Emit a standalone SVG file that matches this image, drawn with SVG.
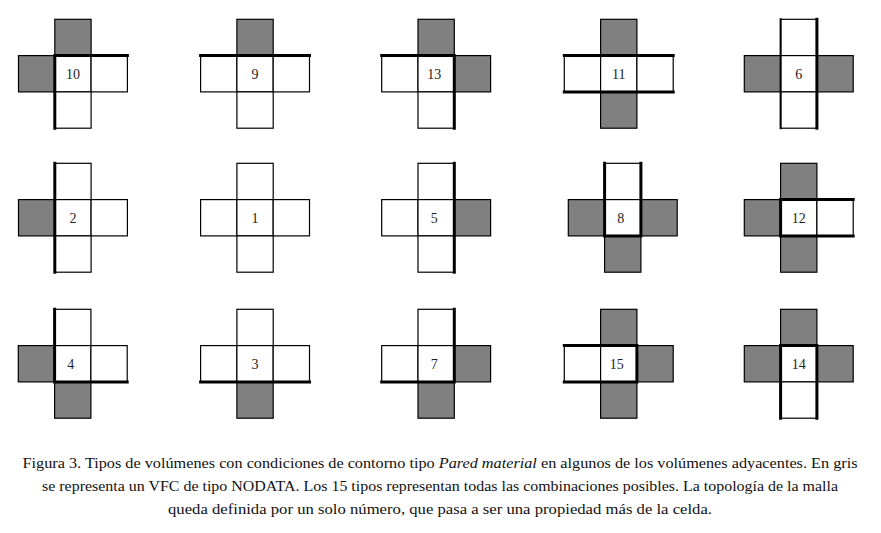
<svg xmlns="http://www.w3.org/2000/svg" xmlns:xlink="http://www.w3.org/1999/xlink" width="881" height="533" viewBox="0 0 881 533">
<style>
.w{fill:#ffffff;stroke:#000;stroke-width:1.2}
.g{fill:#808080;stroke:#000;stroke-width:1.2}
.t{fill:none;stroke:#000;stroke-width:3;stroke-linecap:square}
.n{font-family:"Liberation Serif","DejaVu Serif",serif;font-size:14px;text-anchor:middle;fill:#222}
.c{font-family:"Liberation Serif","DejaVu Serif",serif;font-size:14px;text-anchor:middle;fill:#111}
</style>
<rect width="881" height="533" fill="#fff"/>
<g id="n10" transform="translate(18.5,19.3)">
<rect class="g" x="36.3" y="0" width="36.3" height="36.3"/><rect class="g" x="0" y="36.3" width="36.3" height="36.3"/><rect class="w" x="36.3" y="36.3" width="36.3" height="36.3"/><rect class="w" x="72.6" y="36.3" width="36.3" height="36.3"/><rect class="w" x="36.3" y="72.6" width="36.3" height="36.3"/>
<path class="t" d="M36.3 36.3H108.9M36.3 36.3V108.9"/>
<text class="n" x="54.45" y="59.5">10</text></g>
<g id="n9" transform="translate(200.6,19.3)">
<rect class="g" x="36.3" y="0" width="36.3" height="36.3"/><rect class="w" x="0" y="36.3" width="36.3" height="36.3"/><rect class="w" x="36.3" y="36.3" width="36.3" height="36.3"/><rect class="w" x="72.6" y="36.3" width="36.3" height="36.3"/><rect class="w" x="36.3" y="72.6" width="36.3" height="36.3"/>
<path class="t" d="M0 36.3H108.9"/>
<text class="n" x="54.45" y="59.5">9</text></g>
<g id="n13" transform="translate(381.7,19.3)">
<rect class="g" x="36.3" y="0" width="36.3" height="36.3"/><rect class="w" x="0" y="36.3" width="36.3" height="36.3"/><rect class="w" x="36.3" y="36.3" width="36.3" height="36.3"/><rect class="g" x="72.6" y="36.3" width="36.3" height="36.3"/><rect class="w" x="36.3" y="72.6" width="36.3" height="36.3"/>
<path class="t" d="M0 36.3H72.6V108.9"/>
<text class="n" x="52.5" y="59.5">13</text></g>
<g id="n11" transform="translate(564.3,19.3)">
<rect class="g" x="36.3" y="0" width="36.3" height="36.3"/><rect class="w" x="0" y="36.3" width="36.3" height="36.3"/><rect class="w" x="36.3" y="36.3" width="36.3" height="36.3"/><rect class="w" x="72.6" y="36.3" width="36.3" height="36.3"/><rect class="g" x="36.3" y="72.6" width="36.3" height="36.3"/>
<path class="t" d="M0 36.3H108.9M0 72.6H108.9"/>
<text class="n" x="54.45" y="59.5">11</text></g>
<g id="n6" transform="translate(744.3,19.3)">
<rect class="w" x="36.3" y="0" width="36.3" height="36.3"/><rect class="g" x="0" y="36.3" width="36.3" height="36.3"/><rect class="w" x="36.3" y="36.3" width="36.3" height="36.3"/><rect class="g" x="72.6" y="36.3" width="36.3" height="36.3"/><rect class="w" x="36.3" y="72.6" width="36.3" height="36.3"/>
<path class="t" d="M36.3 0V108.9" style="stroke-width:2"/><path class="t" d="M72.6 0V108.9"/>
<text class="n" x="54.45" y="59.5">6</text></g>
<g id="n2" transform="translate(18.5,163.3)">
<rect class="w" x="36.3" y="0" width="36.3" height="36.3"/><rect class="g" x="0" y="36.3" width="36.3" height="36.3"/><rect class="w" x="36.3" y="36.3" width="36.3" height="36.3"/><rect class="w" x="72.6" y="36.3" width="36.3" height="36.3"/><rect class="w" x="36.3" y="72.6" width="36.3" height="36.3"/>
<path class="t" d="M36.3 0V108.9"/>
<text class="n" x="54.45" y="59.5">2</text></g>
<g id="n1" transform="translate(200.6,163.3)">
<rect class="w" x="36.3" y="0" width="36.3" height="36.3"/><rect class="w" x="0" y="36.3" width="36.3" height="36.3"/><rect class="w" x="36.3" y="36.3" width="36.3" height="36.3"/><rect class="w" x="72.6" y="36.3" width="36.3" height="36.3"/><rect class="w" x="36.3" y="72.6" width="36.3" height="36.3"/>
<text class="n" x="54.45" y="59.5">1</text></g>
<g id="n5" transform="translate(381.7,163.3)">
<rect class="w" x="36.3" y="0" width="36.3" height="36.3"/><rect class="w" x="0" y="36.3" width="36.3" height="36.3"/><rect class="w" x="36.3" y="36.3" width="36.3" height="36.3"/><rect class="g" x="72.6" y="36.3" width="36.3" height="36.3"/><rect class="w" x="36.3" y="72.6" width="36.3" height="36.3"/>
<path class="t" d="M72.6 0V108.9"/>
<text class="n" x="52.5" y="59.5">5</text></g>
<g id="n8" transform="translate(568.3,163.3)">
<rect class="w" x="36.3" y="0" width="36.3" height="36.3"/><rect class="g" x="0" y="36.3" width="36.3" height="36.3"/><rect class="w" x="36.3" y="36.3" width="36.3" height="36.3"/><rect class="g" x="72.6" y="36.3" width="36.3" height="36.3"/><rect class="g" x="36.3" y="72.6" width="36.3" height="36.3"/>
<path class="t" d="M36.3 0V72.6H72.6V0"/>
<text class="n" x="52.5" y="59.5">8</text></g>
<g id="n12" transform="translate(744.3,163.3)">
<rect class="g" x="36.3" y="0" width="36.3" height="36.3"/><rect class="g" x="0" y="36.3" width="36.3" height="36.3"/><rect class="w" x="36.3" y="36.3" width="36.3" height="36.3"/><rect class="w" x="72.6" y="36.3" width="36.3" height="36.3"/><rect class="g" x="36.3" y="72.6" width="36.3" height="36.3"/>
<path class="t" d="M108.9 36.3H36.3V72.6H108.9"/>
<text class="n" x="54.45" y="59.5">12</text></g>
<g id="n4" transform="translate(18.3,309.3)">
<rect class="w" x="36.3" y="0" width="36.3" height="36.3"/><rect class="g" x="0" y="36.3" width="36.3" height="36.3"/><rect class="w" x="36.3" y="36.3" width="36.3" height="36.3"/><rect class="w" x="72.6" y="36.3" width="36.3" height="36.3"/><rect class="g" x="36.3" y="72.6" width="36.3" height="36.3"/>
<path class="t" d="M36.3 0V72.6H108.9"/>
<text class="n" x="52.5" y="59.5">4</text></g>
<g id="n3" transform="translate(200.6,309.3)">
<rect class="w" x="36.3" y="0" width="36.3" height="36.3"/><rect class="w" x="0" y="36.3" width="36.3" height="36.3"/><rect class="w" x="36.3" y="36.3" width="36.3" height="36.3"/><rect class="w" x="72.6" y="36.3" width="36.3" height="36.3"/><rect class="g" x="36.3" y="72.6" width="36.3" height="36.3"/>
<path class="t" d="M0 72.6H108.9"/>
<text class="n" x="54.45" y="59.5">3</text></g>
<g id="n7" transform="translate(381.7,309.3)">
<rect class="w" x="36.3" y="0" width="36.3" height="36.3"/><rect class="w" x="0" y="36.3" width="36.3" height="36.3"/><rect class="w" x="36.3" y="36.3" width="36.3" height="36.3"/><rect class="g" x="72.6" y="36.3" width="36.3" height="36.3"/><rect class="g" x="36.3" y="72.6" width="36.3" height="36.3"/>
<path class="t" d="M72.6 0V72.6H0"/>
<text class="n" x="52.5" y="59.5">7</text></g>
<g id="n15" transform="translate(564.3,309.3)">
<rect class="g" x="36.3" y="0" width="36.3" height="36.3"/><rect class="w" x="0" y="36.3" width="36.3" height="36.3"/><rect class="w" x="36.3" y="36.3" width="36.3" height="36.3"/><rect class="g" x="72.6" y="36.3" width="36.3" height="36.3"/><rect class="g" x="36.3" y="72.6" width="36.3" height="36.3"/>
<path class="t" d="M0 36.3H72.6V72.6H0"/>
<text class="n" x="52.5" y="59.5">15</text></g>
<g id="n14" transform="translate(744.3,309.3)">
<rect class="g" x="36.3" y="0" width="36.3" height="36.3"/><rect class="g" x="0" y="36.3" width="36.3" height="36.3"/><rect class="w" x="36.3" y="36.3" width="36.3" height="36.3"/><rect class="g" x="72.6" y="36.3" width="36.3" height="36.3"/><rect class="w" x="36.3" y="72.6" width="36.3" height="36.3"/>
<path class="t" d="M36.3 108.9V36.3H72.6V108.9"/>
<text class="n" x="54.45" y="59.5">14</text></g>
<g id="caption">
<text class="c" x="440" y="468" textLength="835" lengthAdjust="spacingAndGlyphs">Figura 3. Tipos de volúmenes con condiciones de contorno tipo <tspan font-style="italic">Pared material</tspan> en algunos de los volúmenes adyacentes. En gris</text>
<text class="c" x="440" y="491" textLength="796" lengthAdjust="spacingAndGlyphs">se representa un VFC de tipo NODATA. Los 15 tipos representan todas las combinaciones posibles. La topología de la malla</text>
<text class="c" x="440" y="514" textLength="544" lengthAdjust="spacingAndGlyphs">queda definida por un solo número, que pasa a ser una propiedad más de la celda.</text>
</g>
</svg>
